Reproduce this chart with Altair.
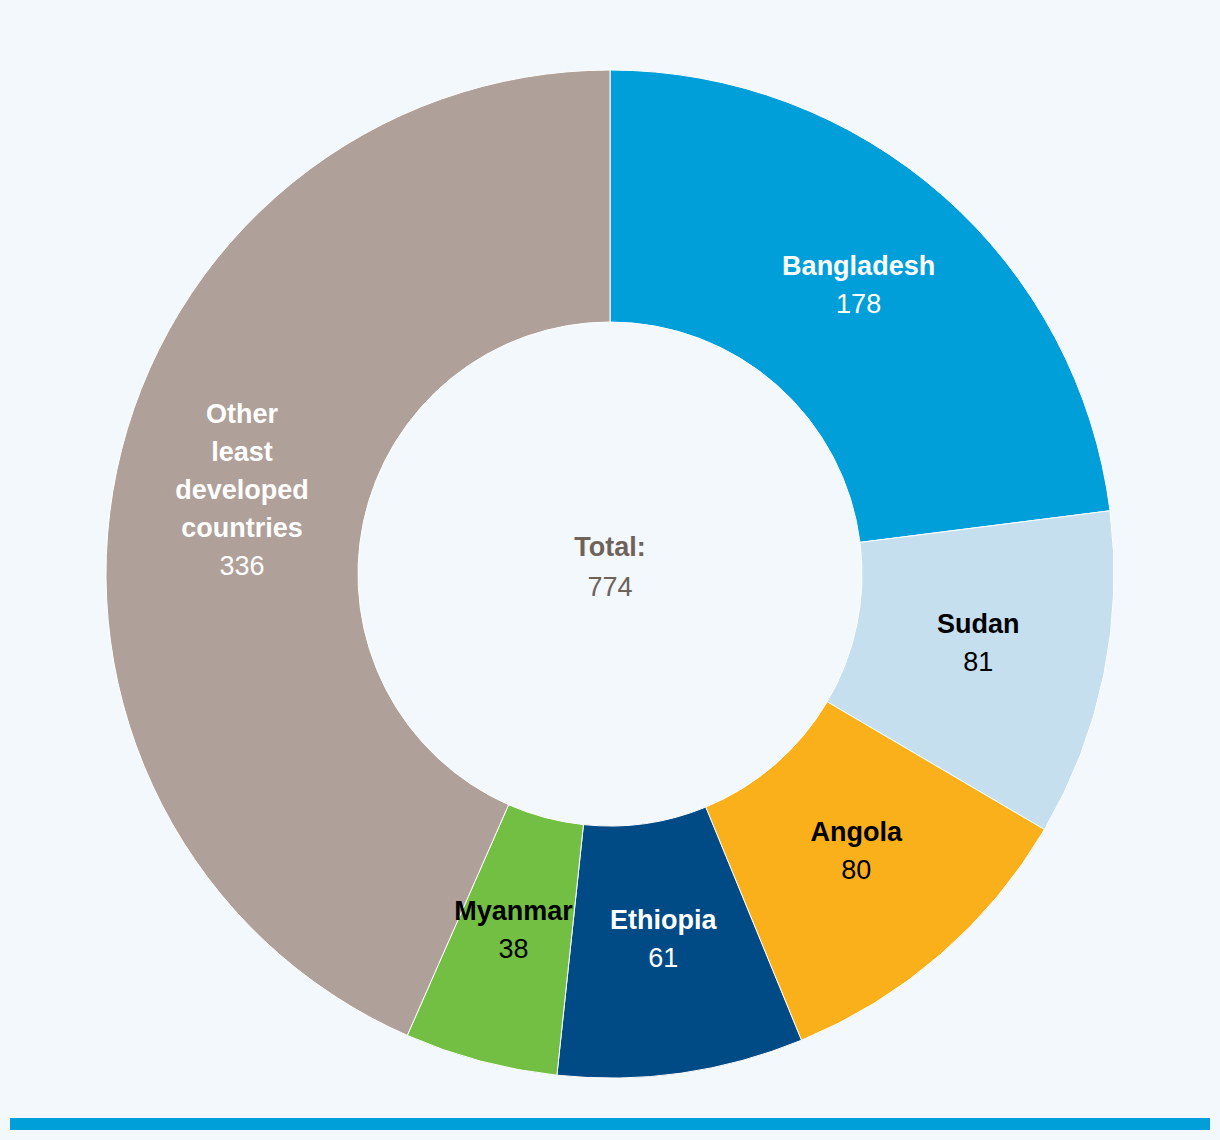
import altair as alt
import pandas as pd

countries = ["Bangladesh", "Sudan", "Angola", "Ethiopia", "Myanmar", "Other least developed countries"]
name_lines = [["Bangladesh"], ["Sudan"], ["Angola"], ["Ethiopia"], ["Myanmar"], ["Other", "least", "developed", "countries"]]
values = [178, 81, 80, 61, 38, 336]
colors = ["#009fda", "#c5dfee", "#f9b01b", "#004a86", "#73bf44", "#afa199"]
text_colors = ["#ffffff", "#000000", "#000000", "#ffffff", "#000000", "#ffffff"]

rows = []
for i, (c, nl, v, tc) in enumerate(zip(countries, name_lines, values, text_colors)):
    rows.append({
        "country": c,
        "value": v,
        "idx": i,
        "name_txt": "\n".join(nl),
        "nl": len(nl),
        "val_txt": str(v),
        "tcolor": tc,
    })
df = pd.DataFrame(rows)
total = sum(values)

FONT = "Liberation Sans, Arial, sans-serif"
FS = 27
LH = 38
CX, CY = 610, 574

base = alt.Chart(df).encode(
    theta=alt.Theta("value:Q", stack=True),
    order=alt.Order("idx:Q"),
)

arcs = base.mark_arc(innerRadius=252, outerRadius=504, stroke="white", strokeWidth=1).encode(
    color=alt.Color("country:N", scale=alt.Scale(domain=countries, range=colors), legend=None),
    x=alt.value(CX), y=alt.value(CY),
)

names = base.mark_text(radius=376, font=FONT, fontSize=FS, fontWeight="bold",
                       lineBreak="\n", lineHeight=LH, baseline="middle", align="center",
                       dy=alt.expr(f"-6 - datum.nl * {LH / 2}")).encode(
    text="name_txt:N",
    color=alt.Color("tcolor:N", scale=None),
    x=alt.value(CX), y=alt.value(CY),
)
vals = base.mark_text(radius=376, font=FONT, fontSize=FS, fontWeight="normal",
                      baseline="middle", align="center",
                      dy=alt.expr(f"-6 + datum.nl * {LH / 2}")).encode(
    text="val_txt:N",
    color=alt.Color("tcolor:N", scale=None),
    x=alt.value(CX), y=alt.value(CY),
)

center_df = pd.DataFrame({"t1": ["Total:"], "t2": [str(total)]})
center1 = alt.Chart(center_df).mark_text(font=FONT, fontSize=FS, fontWeight="bold", color="#6f6259",
                                         baseline="middle", align="center").encode(
    text="t1:N", x=alt.value(CX), y=alt.value(CY - 26))
center2 = alt.Chart(center_df).mark_text(font=FONT, fontSize=FS, fontWeight="normal", color="#6f6259",
                                         baseline="middle", align="center").encode(
    text="t2:N", x=alt.value(CX), y=alt.value(CY + 14))

bar = alt.Chart(center_df).mark_rect(color="#009fda").encode(
    x=alt.value(10), x2=alt.value(1210), y=alt.value(1118), y2=alt.value(1130))

chart = alt.layer(arcs, names, vals, center1, center2, bar).properties(
    width=1220, height=1140,
    autosize=alt.AutoSizeParams(type="none"),
    padding=0,
    background="#f3f8fc",
).configure_view(stroke=None)

chart.save("out.html", embed_options={"renderer": "svg", "actions": False})
